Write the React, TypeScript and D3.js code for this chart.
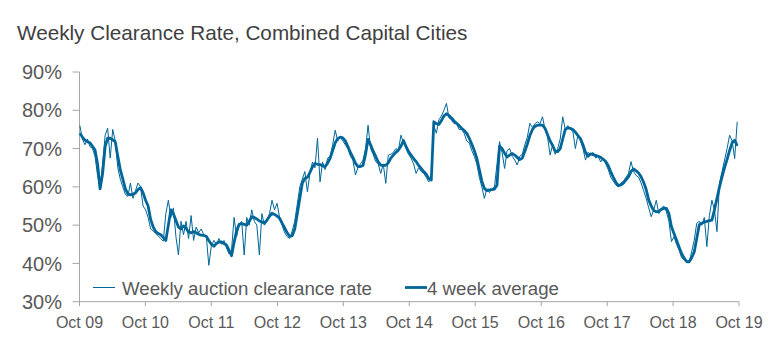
import * as d3 from "d3";

// fortnightly readings, Oct 2009 -> Oct 2019
const weeklyRate = [
  // Oct 09 - Oct 10
  76, 72.5, 71, 72.5, 70.5, 70, 68, 63, 59.5, 66, 73.5, 75.3, 67.5, 75, 72, 65, 62, 60, 58, 57.5, 61, 57, 59, 61, 60, 55,
  // Oct 10 - Oct 11
  54, 52, 49, 48.5, 47.8, 47.2, 46.5, 45.8, 53, 56.5, 52, 54.5, 47, 42.2, 51, 47.5, 51, 46.5, 52.5, 46, 49.5, 48, 49, 47.5, 47.2, 39.5,
  // Oct 11 - Oct 12
  44.5, 46, 45, 46.5, 45, 46, 44, 42.5, 43.5, 52, 47, 50, 51, 42.2, 52, 50, 54, 51, 50, 42.2, 53, 50, 51, 53, 56.5, 54,
  // Oct 12 - Oct 13
  55.7, 52, 50, 48, 47, 46.5, 48.5, 51, 55.5, 60, 62, 64, 58.7, 63.5, 66.5, 65, 72.7, 61.3, 66.5, 64.5, 67.5, 68, 71, 74.8, 72, 73,
  // Oct 13 - Oct 14
  72, 71, 70, 68, 67, 63.1, 65, 66, 67, 70, 76.1, 70, 68.5, 66.6, 66, 63.5, 66, 60.9, 68.3, 68.5, 69, 70, 69.5, 73.5, 71.5, 70,
  // Oct 14 - Oct 15
  68.5, 67.5, 66, 63.5, 65, 64, 63.5, 62.5, 61.3, 62, 76, 74, 77.5, 78.5, 80, 81.8, 78, 77.5, 76.5, 76.5, 75, 75, 74, 72, 71.5, 69.5,
  // Oct 15 - Oct 16
  68, 66, 62.5, 60, 57, 59.5, 58.5, 59.5, 60, 66, 71.8, 69, 64.8, 69.5, 70, 68, 67, 65.7, 68, 68.5, 71, 73, 76.6, 75.5, 76.5, 77,
  // Oct 16 - Oct 17
  76.5, 78.3, 75, 73, 68.3, 71, 68.5, 70, 72.5, 78.3, 75, 76, 75, 74.5, 70, 73.5, 72, 70, 67, 69, 68.5, 69, 67.5, 68, 66.5, 67.5,
  // Oct 17 - Oct 18
  66, 64.5, 62.5, 61.5, 60.5, 60, 61, 61.5, 62.5, 63.5, 66.6, 64, 63, 62.5, 61, 59, 57, 54.5, 52.2, 54, 56.5, 53, 54.5, 55, 53.5, 51,
  // Oct 18 - Oct 19
  45.7, 47, 45, 43.5, 41.5, 41, 40.2, 40.5, 43, 46, 50.5, 51, 50, 52, 44.4, 52.5, 56.5, 54, 48.3, 61, 64, 67, 70, 73.5, 72, 67.4, 77,
];

const fourWeekAvg = [
  74, 73, 72.2, 71.8, 71.5, 70.6, 69.6, 66, 59.5, 63.5, 70.5, 72.7, 72.7, 72.3, 71.8, 68, 64.5, 62, 59.5, 58.2, 57.9, 58.1, 58.4, 59.3, 59.8, 58.5,
  56.5, 55, 51.5, 49.5, 48.3, 47.8, 47.5, 46.8, 46, 50, 54, 53, 51.2, 49.5, 49, 49.8, 49.2, 48.2, 48, 48.3, 48, 47.6, 47.4, 47.3, 47.1, 46,
  45, 44.5, 45.2, 45.6, 45.6, 45.2, 44.8, 43.5, 42, 45.5, 48.5, 50.2, 50.4, 50.2, 50, 51, 52.2, 52, 51.6, 51.1, 50.8, 50.5, 51.3, 52.3, 53.1, 52.8,
  52.4, 51.8, 50.5, 49.3, 48, 47.1, 47.2, 49, 53, 57, 61, 62.2, 62.5, 63.8, 65.2, 66.1, 65.9, 65.8, 65.5, 65.3, 66.2, 67.5, 69.5, 71.5, 72.6, 73,
  72.8, 72, 70.5, 69, 67.7, 66.2, 65.3, 65.3, 65.6, 68.5, 72.4, 71, 69.3, 68, 66.5, 65.7, 65.6, 65.6, 66.3, 67.5, 68.3, 69, 69.6, 70.6, 72.1, 70.6,
  69.2, 68.3, 67.4, 66.6, 65.6, 64.8, 64, 63.3, 62.2, 61.8, 77, 76.5, 76.3, 77.3, 78.5, 79.1, 78.6, 78, 77.2, 76.6, 76, 75.3, 74.7, 74, 72.7, 71.2,
  69.5, 67.5, 64.5, 61.5, 59.6, 59, 59.2, 59.3, 59.4, 60.5, 70.6, 70, 68.8, 67.8, 68.3, 68.7, 68.3, 67.7, 67.1, 67.5, 69.3, 71.2, 73.4, 75, 75.8, 76.1,
  76.1, 76.1, 75.3, 73.6, 72, 70.8, 69.3, 69.2, 70, 72.5, 75, 75.4, 75.3, 75, 74.3, 73.4, 72.6, 71, 69, 68, 68.6, 68.4, 68.2, 68, 67.7, 67.2,
  66.6, 65.5, 63.9, 62.5, 61.2, 60.3, 60.5, 61, 61.8, 62.6, 64, 64.7, 64.2, 63.6, 62.6, 61.2, 59.3, 56.6, 55, 53.8, 53.5, 53.6, 54.1, 54.4, 54.4, 53,
  49.6, 47.8, 46.1, 44.3, 42.6, 41.4, 40.5, 40.4, 41.5, 43, 46.5, 50.1, 50.5, 50.8, 51, 51.2, 51.3, 54, 57, 60, 62.6, 65, 67.2, 69.5, 71.5, 72.2, 70.7,
];

const firstDate = new Date(2009, 9, 3);
const xTickLabels = ["Oct 09", "Oct 10", "Oct 11", "Oct 12", "Oct 13", "Oct 14", "Oct 15", "Oct 16", "Oct 17", "Oct 18", "Oct 19"];
const yTicks = [30, 40, 50, 60, 70, 80, 90];
const seriesNames = ["Weekly auction clearance rate", "4 week average"];

const W = 779;
const H = 351;
const LINE = "#006699";
const AXIS = "#a6a6a6";
const TEXT = "#595959";
const FONT = "'Liberation Sans', Arial, sans-serif";

export default function App() {
  const dates = weeklyRate.map((_, i) => d3.timeDay.offset(firstDate, i * 14));
  const tickDates = xTickLabels.map((_, i) => new Date(2009 + i, 9, 1));

  const x = d3
    .scaleTime()
    .domain([tickDates[0], tickDates[tickDates.length - 1]])
    .range([79.5, 739]);
  const y = d3.scaleLinear().domain([30, 90]).range([301.7, 72]);

  const line = d3
    .line<number>()
    .x((_, i) => x(dates[i]))
    .y((d) => y(d));

  return (
    <svg width={W} height={H} style={{ position: "absolute", left: 0, top: 0, background: "#fff" }} fontFamily={FONT}>
      <text x={17} y={39.5} fontSize={20.7} fill="#404040">
        Weekly Clearance Rate, Combined Capital Cities
      </text>

      {/* y axis */}
      <line x1={79.5} x2={79.5} y1={y(90)} y2={y(30)} stroke={AXIS} />
      {yTicks.map((t) => (
        <g key={t}>
          <line x1={72.5} x2={79.5} y1={y(t)} y2={y(t)} stroke={AXIS} />
          <text x={62} y={y(t)} dy="0.36em" textAnchor="end" fontSize={20} fill={TEXT}>
            {t}%
          </text>
        </g>
      ))}

      {/* x axis */}
      <line x1={79.5} x2={739} y1={y(30)} y2={y(30)} stroke={AXIS} />
      {tickDates.map((d, i) => (
        <g key={i}>
          <line x1={x(d)} x2={x(d)} y1={y(30)} y2={y(30) + 4.5} stroke={AXIS} />
          <text x={x(d)} y={327.5} textAnchor="middle" fontSize={16} fill={TEXT}>
            {xTickLabels[i]}
          </text>
        </g>
      ))}

      <path d={line(weeklyRate) ?? ""} fill="none" stroke={LINE} strokeWidth={1} strokeLinejoin="round" />
      <path d={line(fourWeekAvg) ?? ""} fill="none" stroke={LINE} strokeWidth={2.8} strokeLinejoin="round" />

      {/* legend */}
      <line x1={93} x2={115} y1={287.5} y2={287.5} stroke={LINE} strokeWidth={1} />
      <text x={122} y={295} fontSize={18.7} fill={TEXT}>
        {seriesNames[0]}
      </text>
      <line x1={405} x2={427} y1={287.5} y2={287.5} stroke={LINE} strokeWidth={2.8} />
      <text x={427} y={295} fontSize={18.7} fill={TEXT}>
        {seriesNames[1]}
      </text>
    </svg>
  );
}
